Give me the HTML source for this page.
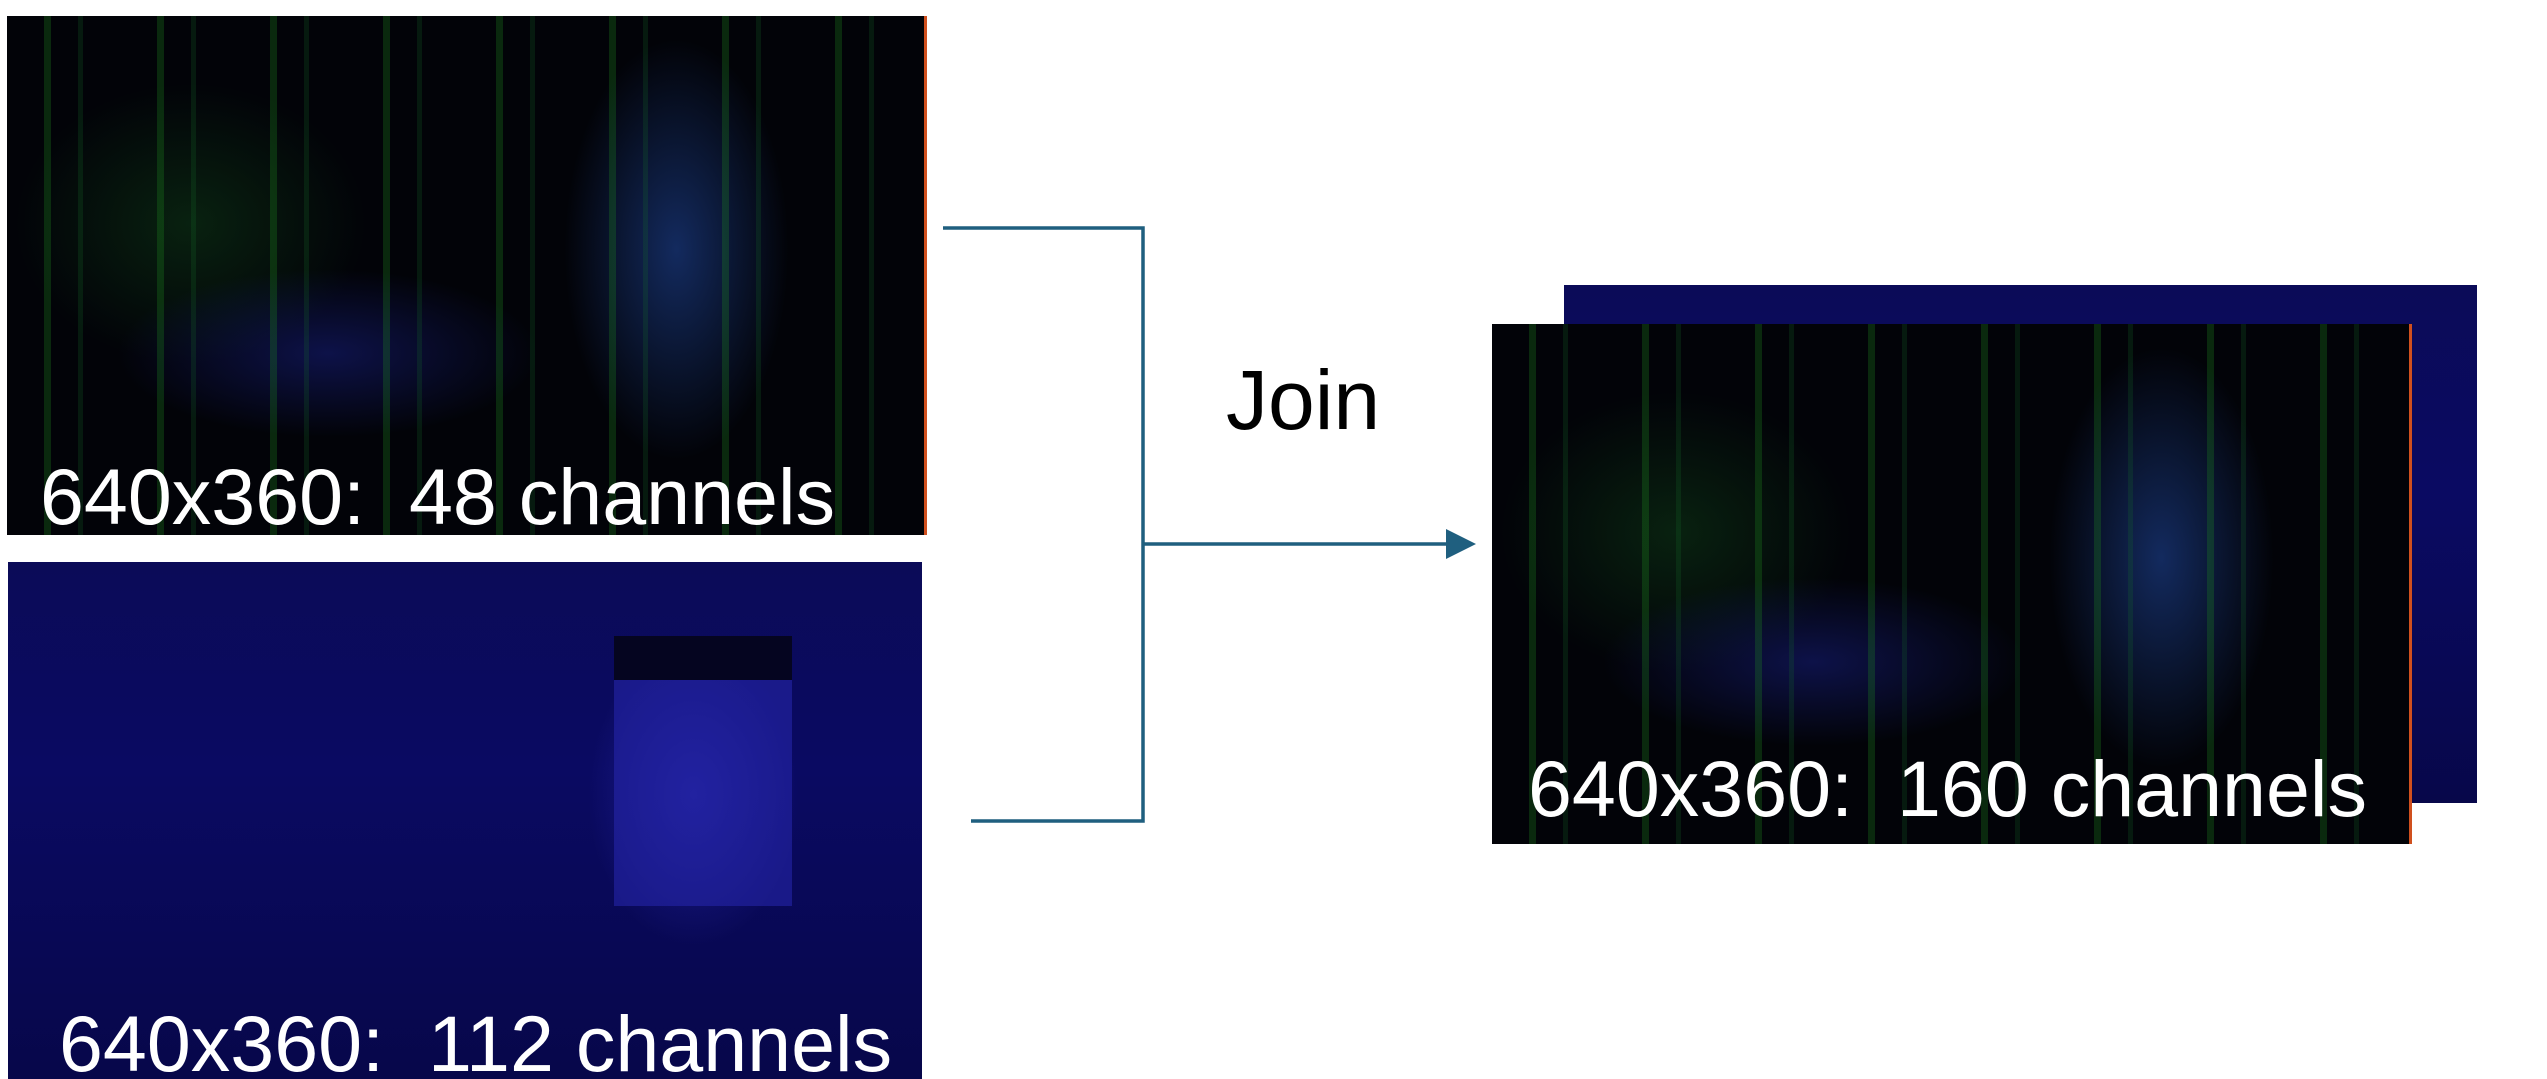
<!DOCTYPE html>
<html><head><meta charset="utf-8"><style>
html,body{margin:0;padding:0;background:#fff;width:2547px;height:1079px;overflow:hidden;position:relative;font-family:"Liberation Sans",sans-serif}
.img{position:absolute;overflow:hidden}
.green{background:
 repeating-linear-gradient(90deg,transparent 0 37px,rgba(30,140,30,.28) 37px 44px,transparent 44px 71px,rgba(20,110,40,.22) 71px 76px,transparent 76px 113px),
 radial-gradient(ellipse 160px 300px at 73% 45%,rgba(40,90,200,.45),transparent 70%),
 radial-gradient(ellipse 300px 120px at 35% 65%,rgba(30,40,170,.4),transparent 70%),
 radial-gradient(ellipse 250px 200px at 20% 40%,rgba(20,90,30,.35),transparent 70%),
 #020308}
.navy{background:
 radial-gradient(ellipse 140px 200px at 75% 45%,rgba(50,50,200,.5),transparent 75%),
 linear-gradient(180deg,#0b0b58 0%,#0a0a62 40%,#07074a 100%)}
.lbl{position:absolute;color:#fff;font-size:79px;white-space:nowrap;line-height:1}
</style></head><body>
<div class="img navy" style="left:1564px;top:285px;width:913px;height:518px"></div>
<div class="img green" style="left:7px;top:16px;width:920px;height:519px;border-right:3px solid #d0501e;box-sizing:border-box"></div>
<div class="lbl" style="left:40px;top:457px">640x360:&nbsp; 48 channels</div>
<div class="img navy" style="left:8px;top:562px;width:914px;height:517px">
 <div style="position:absolute;left:606px;top:74px;width:178px;height:270px;background:#2525a8;opacity:.6"></div>
 <div style="position:absolute;left:606px;top:74px;width:178px;height:44px;background:#050520"></div>
</div>
<div class="lbl" style="left:59px;top:1004px">640x360:&nbsp; 112 channels</div>
<div class="img green" style="left:1492px;top:324px;width:920px;height:520px;border-right:3px solid #d0501e;box-sizing:border-box"></div>
<div class="lbl" style="left:1528px;top:749px">640x360:&nbsp; 160 channels</div>
<div style="position:absolute;left:1226px;top:358px;font-size:84px;line-height:1;color:#000">Join</div>
<svg width="2547" height="1079" style="position:absolute;left:0;top:0">
<g stroke="#1f5f7f" stroke-width="3.5" fill="none">
<polyline points="943,228 1143,228 1143,821 971,821"/>
<line x1="1143" y1="544" x2="1448" y2="544"/>
</g>
<polygon points="1446,529 1476,544 1446,559" fill="#1f5f7f"/>
</svg>
</body></html>
